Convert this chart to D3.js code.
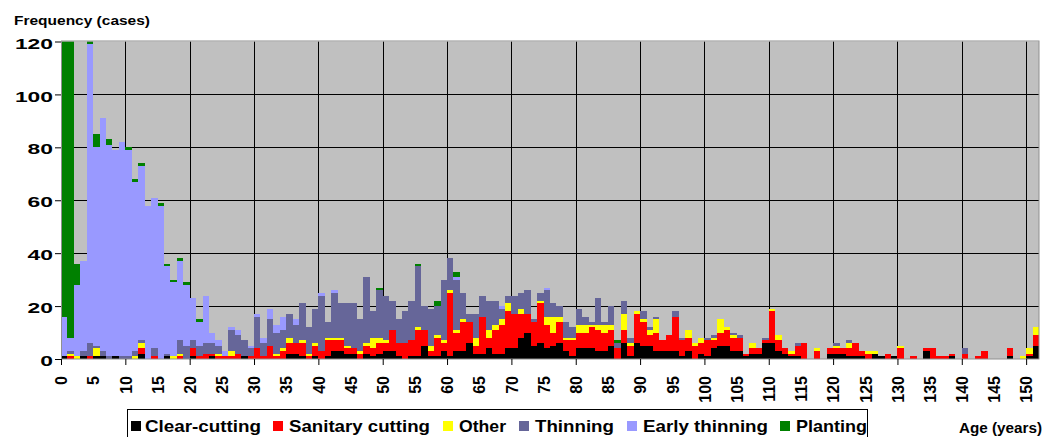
<!DOCTYPE html>
<html>
<head>
<meta charset="utf-8">
<script src="https://cdn.jsdelivr.net/npm/d3@7"></script>
<style>
  body { margin: 0; background: #fff; }
  text { font-family: Arial, "Liberation Sans", sans-serif; font-weight: bold; fill: #000; }
</style>
</head>
<body>
<svg id="chart" width="1057" height="437"></svg>
<script>
// age classes (years), one bar per year
const ages = d3.range(0, 152);

// cases per age class (rows of 10 years)
const clearCutting = [
  1,0,0,1,0,1,1,0,1,0,
  0,0,2,0,0,0,1,0,0,0,
  1,0,0,1,0,0,0,0,1,0,
  0,0,0,0,0,2,2,1,0,1,
  0,1,3,3,2,2,0,2,1,2,
  3,3,1,0,1,1,5,1,1,3,
  1,3,3,6,2,2,4,2,2,4,
  4,8,10,5,6,4,5,6,3,1,
  4,4,4,3,3,5,0,6,1,6,
  5,5,3,3,3,3,1,3,0,2,
  1,4,5,5,3,3,1,2,2,6,
  6,3,2,1,1,0,0,0,0,2,
  2,2,1,1,1,0,2,1,0,1,
  0,0,0,0,3,0,0,0,1,0,
  0,0,0,0,0,0,0,1,0,0,
  1,5
];
const sanitaryCutting = [
  0,1,0,0,1,0,0,0,0,0,
  0,0,2,0,1,0,0,0,1,0,
  3,1,2,1,1,1,1,2,0,1,
  4,1,5,1,3,4,4,5,1,4,
  3,6,4,4,2,2,2,3,3,4,
  3,8,5,6,6,10,6,2,7,3,
  24,7,11,8,3,14,4,9,11,14,
  13,9,7,9,15,9,5,8,4,6,
  6,6,8,8,7,6,4,5,4,11,
  9,4,7,4,6,13,6,5,5,4,
  6,3,5,6,5,5,1,2,2,1,
  12,4,2,1,4,6,0,3,0,2,
  2,2,3,5,2,2,0,0,2,0,
  4,0,1,0,1,4,1,1,1,0,
  2,0,1,3,0,0,0,3,0,0,
  1,4
];
const other = [
  0,1,1,0,0,3,0,0,0,0,
  0,1,2,0,0,0,0,1,1,0,
  0,0,0,0,1,0,2,0,0,0,
  0,0,0,1,1,2,0,1,1,1,
  0,1,1,1,1,0,1,1,4,2,
  1,0,0,0,0,1,0,2,1,1,
  1,1,1,0,3,0,3,2,2,3,
  0,2,0,0,1,3,6,2,1,1,
  3,3,1,2,3,2,0,6,1,1,
  1,2,5,0,0,0,0,3,1,2,
  0,1,5,1,1,0,0,2,0,0,
  1,2,0,1,0,0,0,1,0,0,
  1,0,2,0,0,1,1,0,0,0,
  1,0,0,0,0,0,0,0,0,0,
  0,0,0,0,0,0,0,0,0,1,
  2,3
];
const thinning = [
  0,1,0,2,5,1,2,1,0,1,
  1,2,1,0,3,0,1,0,5,5,
  3,4,4,4,3,0,8,7,6,3,
  12,5,10,8,7,9,7,14,10,13,
  21,6,17,13,16,17,12,25,10,18,
  17,11,9,12,15,23,9,14,11,23,
  12,19,10,3,9,8,11,9,4,3,
  7,6,9,1,3,10,5,4,6,4,
  6,3,1,10,1,7,2,5,2,0,
  3,1,1,0,0,2,1,0,0,0,
  1,1,0,0,1,1,0,0,0,1,
  0,0,0,0,1,0,0,0,0,0,
  1,0,1,0,0,0,0,0,0,0,
  0,0,0,0,0,0,0,0,0,0,
  2,0,0,0,0,0,0,0,0,0,
  0,0
];
const earlyThinning = [
  15,5,27,34,113,75,88,80,78,81,
  78,64,66,58,57,58,33,28,30,23,
  16,9,18,4,2,2,1,2,0,1,
  1,2,4,3,5,0,2,0,0,0,
  1,0,1,0,0,0,0,0,0,0,
  0,0,0,0,0,0,0,0,0,0,
  0,1,0,0,0,0,0,0,1,0,
  0,0,0,0,0,1,0,0,0,0,
  0,0,0,0,0,0,0,0,0,0,
  0,0,0,0,0,0,0,0,0,0,
  0,0,0,0,0,0,0,0,0,0,
  0,0,0,0,0,0,0,0,0,0,
  0,0,0,0,0,0,0,0,0,0,
  0,0,0,0,0,0,0,0,0,0,
  0,0,0,0,0,0,0,0,0,0,
  0,0
];
// the first two go off the top of the chart
const planting = [
  130,125,8,0,2,5,0,2,0,0,
  1,1,1,0,0,1,1,1,1,1,
  0,1,0,0,0,0,0,0,0,0,
  0,0,0,0,0,0,0,0,0,0,
  0,0,0,0,0,0,0,0,0,1,
  0,0,0,0,0,1,0,0,2,0,
  0,2,0,0,0,0,0,0,0,0,
  0,0,0,0,0,0,0,0,0,0,
  0,0,0,0,0,0,1,0,0,0,
  0,0,0,0,0,0,0,0,0,0,
  0,0,0,0,0,0,0,0,0,0,
  0,0,0,0,0,0,0,0,0,0,
  0,0,0,0,0,0,0,0,0,0,
  0,0,0,0,0,0,0,0,0,0,
  0,0,0,0,0,0,0,0,0,0,
  0,0
];

const seriesNames = ['Clear-cutting', 'Sanitary cutting', 'Other', 'Thinning', 'Early thinning', 'Planting'];
const seriesColors = ['#000000', '#ff0000', '#ffff00', '#666699', '#9999ff', '#008000'];
const yTicks = [0, 20, 40, 60, 80, 100, 120];
const xLabelTicks = d3.range(0, 151, 5);
const xGridTicks = d3.range(0, 151, 10);

// build rows for d3.stack
const keys = ['c', 's', 'o', 't', 'e', 'p'];
const rows = ages.map((a, i) => ({
  age: a,
  c: clearCutting[i], s: sanitaryCutting[i], o: other[i],
  t: thinning[i], e: earlyThinning[i], p: planting[i]
}));

const svg = d3.select('#chart');
const plotLeft = 61, plotRight = 1039, plotTop = 41.5, plotBottom = 359;

const x = d3.scaleLinear().domain([0, 152]).range([plotLeft, plotRight]);
const y = d3.scaleLinear().domain([0, 120]).range([plotBottom, plotTop]);

// plot background
svg.append('rect')
  .attr('x', plotLeft).attr('y', plotTop)
  .attr('width', plotRight - plotLeft).attr('height', plotBottom - plotTop)
  .attr('fill', '#c0c0c0');

// grid lines
svg.append('g').selectAll('line').data(yTicks.filter(v => v > 0 && v < 120))
  .join('line')
  .attr('x1', plotLeft).attr('x2', plotRight)
  .attr('y1', d => Math.round(y(d)) + 0.5).attr('y2', d => Math.round(y(d)) + 0.5)
  .attr('stroke', '#000');
svg.append('g').selectAll('line').data(xGridTicks.filter(v => v > 0))
  .join('line')
  .attr('x1', d => Math.round(x(d)) + 0.5).attr('x2', d => Math.round(x(d)) + 0.5)
  .attr('y1', plotTop).attr('y2', plotBottom)
  .attr('stroke', '#000');

// clip the bars to the plot area
svg.append('clipPath').attr('id', 'plotclip')
  .append('rect')
  .attr('x', plotLeft).attr('y', plotTop)
  .attr('width', plotRight - plotLeft).attr('height', plotBottom - plotTop);

const stacked = d3.stack().keys(keys)(rows);

svg.append('g')
  .attr('clip-path', 'url(#plotclip)')
  .attr('shape-rendering', 'crispEdges')
  .selectAll('g')
  .data(stacked)
  .join('g')
  .attr('fill', (d, i) => seriesColors[i])
  .selectAll('rect')
  .data(d => d.filter(v => v[1] > v[0]))
  .join('rect')
  .attr('x', d => x(d.data.age))
  .attr('width', d => x(d.data.age + 1) - x(d.data.age))
  .attr('y', d => y(d[1]))
  .attr('height', d => y(d[0]) - y(d[1]));

// plot frame
svg.append('rect')
  .attr('x', plotLeft + 0.5).attr('y', plotTop - 0.5)
  .attr('width', plotRight - plotLeft - 0.5).attr('height', plotBottom - plotTop + 0.5)
  .attr('fill', 'none')
  .attr('stroke', '#909090');

// y axis
const yAxis = svg.append('g')
  .attr('transform', `translate(${plotLeft},0)`)
  .call(d3.axisLeft(y).tickValues(yTicks).tickSize(6).tickPadding(2));
yAxis.select('.domain').remove();
yAxis.selectAll('line').attr('stroke', '#000');
yAxis.selectAll('text')
  .attr('font-size', 15)
  .attr('dy', 6.6)
  .attr('textLength', d => String(d).length * 12.7)
  .attr('lengthAdjust', 'spacingAndGlyphs')
  .style('font-family', 'Arial, "Liberation Sans", sans-serif')
  .style('font-weight', 'bold');

// x axis: ticks only every 10 years, labels every 5
const xAxis = svg.append('g')
  .attr('transform', `translate(0,${plotBottom})`)
  .call(d3.axisBottom(x).tickValues(xLabelTicks).tickSize(6));
xAxis.select('.domain').remove();
xAxis.selectAll('.tick line')
  .attr('stroke', d => d % 10 === 0 ? '#000' : 'none');
xAxis.selectAll('.tick text')
  .attr('transform', 'rotate(-90)')
  .attr('x', -17)
  .attr('y', 0)
  .attr('dy', '0.36em')
  .attr('text-anchor', 'end')
  .attr('font-size', 16)
  .style('font-family', 'Arial, "Liberation Sans", sans-serif')
  .style('font-weight', 'bold');

// axis titles
svg.append('text')
  .attr('x', 14).attr('y', 24.5)
  .attr('font-size', 13)
  .attr('textLength', 136).attr('lengthAdjust', 'spacingAndGlyphs')
  .text('Frequency (cases)');
svg.append('text')
  .attr('x', 959).attr('y', 433)
  .attr('font-size', 14)
  .attr('textLength', 83).attr('lengthAdjust', 'spacingAndGlyphs')
  .text('Age (years)');

// legend
const legendBoxX = [131, 273, 443, 519, 627, 780];
const legendTextX = [145, 289, 459, 535, 643, 796];
const legendTextW = [116, 141, 47, 79, 125, 71];
svg.append('rect')
  .attr('x', 127.5).attr('y', 409.5)
  .attr('width', 740).attr('height', 40)
  .attr('fill', '#fff').attr('stroke', '#000');
const legend = svg.append('g').selectAll('g')
  .data(seriesNames)
  .join('g');
legend.append('rect')
  .attr('x', (d, i) => legendBoxX[i]).attr('y', 421)
  .attr('width', 10).attr('height', 10)
  .attr('fill', (d, i) => seriesColors[i]);
legend.append('text')
  .attr('x', (d, i) => legendTextX[i]).attr('y', 432)
  .attr('font-size', 17)
  .attr('textLength', (d, i) => legendTextW[i]).attr('lengthAdjust', 'spacingAndGlyphs')
  .text(d => d);
</script>
</body>
</html>
